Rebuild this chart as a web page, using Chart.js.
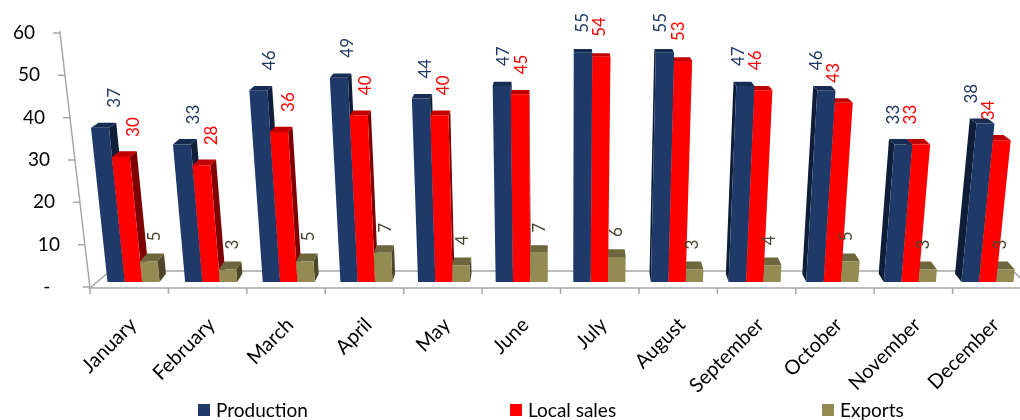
<!DOCTYPE html>
<html>
<head>
<meta charset="utf-8">
<title>Production, local sales and exports by month</title>
<script src="https://cdn.jsdelivr.net/npm/chart.js@4.4.1/dist/chart.umd.min.js"></script>
<style>
  html, body { margin: 0; padding: 0; background: #fff; }
  #wrap { position: relative; width: 1020px; height: 420px; overflow: hidden; }
  #salesChart { position: absolute; left: 0; top: 0; }
  #legend { position: absolute; left: 198px; top: 398px; display: flex; font: 19px Lato, sans-serif; color: #000; }
  #legend .item { width: 312px; display: flex; align-items: center; white-space: nowrap; }
  #legend .box { width: 12px; height: 12px; margin-right: 6px; }
</style>
</head>
<body>
<div id="wrap">
  <canvas id="salesChart" width="1040" height="420"></canvas>
  <div id="legend"></div>
</div>
<script>
// monthly figures
const months = ["January", "February", "March", "April", "May", "June",
  "July", "August", "September", "October", "November", "December"];
const production = [37, 33, 46, 49, 44, 47, 55, 55, 47, 46, 33, 38];
const localSales = [30, 28, 36, 40, 40, 45, 54, 53, 46, 43, 33, 34];
const exportsQty = [5, 3, 5, 7, 4, 7, 6, 3, 4, 5, 3, 3];
const yTicks = [0, 10, 20, 30, 40, 50, 60];

// front / side / top shades for the fake 3D columns
const shades = [
  { front: "#1F3A68", side: "#0F1E38", top: "#162C52", text: "#1F3864" },
  { front: "#FF0000", side: "#7E0000", top: "#C00000", text: "#FF0000" },
  { front: "#948A54", side: "#4C4729", top: "#6E673D", text: "#4A4630" },
];

Chart.defaults.font.family = "Lato, sans-serif";

// draws the floor, the leaning value axis and the columns in perspective
const perspective = {
  id: "perspective",
  beforeDatasetsDraw(chart) {
    const ctx = chart.ctx;
    const ca = chart.chartArea;
    const ys = chart.scales.y;
    const vx = (ca.left + ca.right) / 2;
    const front = ca.bottom + 1;
    const back = front - 17;
    const H = ca.bottom - ca.top;

    ctx.save();
    ctx.strokeStyle = "#A6A6A6";
    ctx.lineWidth = 1.5;

    // floor
    ctx.beginPath();
    ctx.moveTo(ca.left, front);
    ctx.lineTo(ca.right, front);
    ctx.lineTo(ca.right - 18, back);
    ctx.lineTo(ca.left + 20, back);
    ctx.closePath();
    ctx.stroke();

    // category separators under the floor edge
    const step = (ca.right - ca.left) / months.length;
    ctx.beginPath();
    for (let i = 0; i <= months.length; i++) {
      const x = ca.left + i * step;
      ctx.moveTo(x, front);
      ctx.lineTo(x, front + 6);
    }
    ctx.stroke();

    // value axis leans left towards the top
    const axisX = y => ca.left - (front - y) * 30 / 255;
    ctx.beginPath();
    ctx.moveTo(ca.left, front);
    ctx.lineTo(axisX(ca.top - 2), ca.top - 2);
    ctx.stroke();

    ctx.fillStyle = "#000";
    ctx.font = "19px Lato, sans-serif";
    ctx.textAlign = "right";
    ctx.textBaseline = "middle";
    yTicks.forEach(v => {
      const y = ys.getPixelForValue(v);
      ctx.beginPath();
      ctx.moveTo(axisX(y) - 7, y);
      ctx.lineTo(axisX(y), y);
      ctx.stroke();
      ctx.fillText(v === 0 ? "-   " : String(v), axisX(y) - 25, y);
    });

    // columns
    const base0 = ys.getPixelForValue(0);
    const toX = x => vx + (x - vx) * 0.99;
    const toY = y => base0 - 5 - (base0 - y) * 0.985;
    const depth = p => [p[0] + (vx - p[0]) * 0.016, p[1] - (3.5 + (p[1] - 50) * 0.02)];
    const quad = (pts, color) => {
      ctx.beginPath();
      ctx.moveTo(pts[0][0], pts[0][1]);
      for (let k = 1; k < pts.length; k++) ctx.lineTo(pts[k][0], pts[k][1]);
      ctx.closePath();
      ctx.fillStyle = color;
      ctx.fill();
    };

    const items = [];
    chart.data.datasets.forEach((ds, di) => {
      chart.getDatasetMeta(di).data.forEach((bar, i) => {
        const p = bar.getProps(["x", "y", "base", "width"], true);
        items.push({ di, value: ds.data[i], p });
      });
    });
    // farthest from the centre first so nearer faces cover them
    items.sort((a, b) => Math.abs(b.p.x - vx) - Math.abs(a.p.x - vx));

    const labels = [];
    items.forEach(({ di, value, p }) => {
      const c = shades[di];
      const xl = toX(p.x - p.width / 2), xr = toX(p.x + p.width / 2);
      const yb = toY(p.base), yt = toY(p.y);
      const lean = x => (x - vx) * 0.06 * (yb - yt) / H;
      const BL = [xl, yb], BR = [xr, yb];
      const TL = [xl + lean(xl), yt], TR = [xr + lean(xr), yt];

      if (p.x < vx) quad([TR, BR, depth(BR), depth(TR)], c.side);
      else quad([TL, BL, depth(BL), depth(TL)], c.side);
      quad([TL, TR, depth(TR), depth(TL)], c.top);
      quad([BL, BR, TR, TL], c.front);

      const cx = (TL[0] + TR[0]) / 2;
      const lx = cx + (vx - cx) * (0.012 + 0.00013 * (yb - yt));
      labels.push({ x: lx, y: yt - 20, text: String(value), color: c.text });
    });

    ctx.font = "17px Lato, sans-serif";
    ctx.textAlign = "left";
    ctx.textBaseline = "middle";
    labels.forEach(l => {
      ctx.save();
      ctx.translate(l.x, l.y);
      ctx.rotate(-Math.PI / 2);
      ctx.fillStyle = l.color;
      ctx.fillText(l.text, 0, 0);
      ctx.restore();
    });

    ctx.restore();
    return false;
  },
};

const chart = new Chart(document.getElementById("salesChart"), {
  type: "bar",
  data: {
    labels: months,
    datasets: [
      { label: "Production", data: production, backgroundColor: shades[0].front },
      { label: "Local sales", data: localSales, backgroundColor: shades[1].front },
      { label: "Exports", data: exportsQty, backgroundColor: shades[2].front },
    ],
  },
  options: {
    responsive: false,
    animation: false,
    layout: { padding: { top: 33, right: 9, left: 0, bottom: 0 } },
    datasets: { bar: { categoryPercentage: 0.67, barPercentage: 1 } },
    plugins: {
      legend: { display: false },
      tooltip: { enabled: false },
    },
    scales: {
      x: {
        grid: { display: false, drawTicks: false },
        border: { display: false },
        ticks: {
          autoSkip: false,
          minRotation: 45,
          maxRotation: 45,
          padding: 26,
          labelOffset: 4,
          color: "#000",
          font: { size: 20 },
        },
        afterFit: s => { s.height = 133; },
      },
      y: {
        min: yTicks[0],
        max: yTicks[yTicks.length - 1],
        grid: { display: false, drawTicks: false },
        border: { display: false },
        ticks: { display: false, stepSize: yTicks[1] - yTicks[0] },
        afterFit: s => { s.width = 90; },
      },
    },
  },
  plugins: [perspective],
});

// legend below the chart, built from the datasets
const legend = document.getElementById("legend");
chart.data.datasets.forEach(ds => {
  const item = document.createElement("div");
  item.className = "item";
  const box = document.createElement("span");
  box.className = "box";
  box.style.background = ds.backgroundColor;
  const txt = document.createElement("span");
  txt.textContent = ds.label;
  item.appendChild(box);
  item.appendChild(txt);
  legend.appendChild(item);
});
</script>
</body>
</html>
